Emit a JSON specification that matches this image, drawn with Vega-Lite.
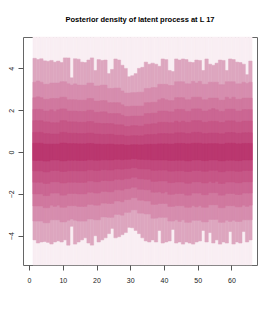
{
"$schema":"https://vega.github.io/schema/vega-lite/v6.json",
"width":234,"height":228,"autosize":"none",
"padding":{"left":23,"top":37,"right":18,"bottom":49},
"background":"white",
"title":{"text":"Posterior density of latent process at L 17","font":"Liberation Sans","fontSize":7.5,"fontWeight":"bold","color":"#000","anchor":"middle","offset":13},
"config":{"view":{"stroke":"#666","strokeWidth":1},
"axis":{"domain":false,"grid":false,"tickSize":5,"tickColor":"#555","labelFont":"Liberation Sans","labelFontSize":7,"labelColor":"#222","title":null}},
"data":{"values":[
{"x":1,"u1":4.48,"u2":3.34,"u3":2.6,"u4":2.04,"u5":1.5,"u6":0.94,"u7":0.42,"l1":-4.2,"l2":-3.3,"l3":-2.58,"l4":-2.0,"l5":-1.44,"l6":-0.9,"l7":-0.4},
{"x":2,"u1":4.42,"u2":3.4,"u3":2.64,"u4":2.04,"u5":1.5,"u6":0.94,"u7":0.42,"l1":-4.35,"l2":-3.3,"l3":-2.58,"l4":-2.0,"l5":-1.44,"l6":-0.9,"l7":-0.4},
{"x":3,"u1":4.46,"u2":3.34,"u3":2.6,"u4":2.04,"u5":1.5,"u6":0.94,"u7":0.42,"l1":-4.3,"l2":-3.3,"l3":-2.58,"l4":-2.0,"l5":-1.44,"l6":-0.9,"l7":-0.4},
{"x":4,"u1":4.36,"u2":3.24,"u3":2.52,"u4":1.96,"u5":1.44,"u6":0.88,"u7":0.38,"l1":-4.28,"l2":-3.38,"l3":-2.66,"l4":-2.08,"l5":-1.5,"l6":-0.95,"l7":-0.43},
{"x":5,"u1":4.34,"u2":3.24,"u3":2.52,"u4":1.96,"u5":1.44,"u6":0.88,"u7":0.38,"l1":-4.32,"l2":-3.38,"l3":-2.66,"l4":-2.08,"l5":-1.5,"l6":-0.95,"l7":-0.43},
{"x":6,"u1":4.38,"u2":3.3,"u3":2.56,"u4":2.02,"u5":1.4,"u6":0.86,"u7":0.38,"l1":-4.4,"l2":-3.24,"l3":-2.54,"l4":-1.96,"l5":-1.42,"l6":-0.88,"l7":-0.38},
{"x":7,"u1":4.3,"u2":3.3,"u3":2.56,"u4":1.94,"u5":1.4,"u6":0.86,"u7":0.38,"l1":-4.3,"l2":-3.24,"l3":-2.6,"l4":-1.96,"l5":-1.42,"l6":-0.88,"l7":-0.38},
{"x":8,"u1":4.35,"u2":3.3,"u3":2.56,"u4":2.02,"u5":1.4,"u6":0.86,"u7":0.38,"l1":-4.25,"l2":-3.24,"l3":-2.54,"l4":-1.96,"l5":-1.42,"l6":-0.88,"l7":-0.38},
{"x":9,"u1":4.28,"u2":3.36,"u3":2.62,"u4":2.06,"u5":1.5,"u6":0.94,"u7":0.43,"l1":-4.3,"l2":-3.34,"l3":-2.64,"l4":-2.06,"l5":-1.48,"l6":-0.93,"l7":-0.42},
{"x":10,"u1":4.5,"u2":3.36,"u3":2.62,"u4":2.06,"u5":1.5,"u6":0.94,"u7":0.43,"l1":-4.2,"l2":-3.34,"l3":-2.64,"l4":-2.06,"l5":-1.48,"l6":-0.93,"l7":-0.42},
{"x":11,"u1":4.5,"u2":3.26,"u3":2.5,"u4":1.96,"u5":1.44,"u6":0.9,"u7":0.4,"l1":-4.45,"l2":-3.26,"l3":-2.56,"l4":-1.98,"l5":-1.44,"l6":-0.89,"l7":-0.39},
{"x":12,"u1":3.55,"u2":3.2,"u3":2.5,"u4":1.96,"u5":1.44,"u6":0.9,"u7":0.4,"l1":-3.55,"l2":-3.2,"l3":-2.56,"l4":-1.98,"l5":-1.44,"l6":-0.89,"l7":-0.39},
{"x":13,"u1":4.46,"u2":3.26,"u3":2.5,"u4":1.96,"u5":1.44,"u6":0.9,"u7":0.4,"l1":-4.4,"l2":-3.26,"l3":-2.56,"l4":-1.98,"l5":-1.44,"l6":-0.89,"l7":-0.39},
{"x":14,"u1":4.44,"u2":3.2,"u3":2.48,"u4":1.94,"u5":1.42,"u6":0.88,"u7":0.39,"l1":-4.3,"l2":-3.3,"l3":-2.6,"l4":-2.0,"l5":-1.45,"l6":-0.9,"l7":-0.4},
{"x":15,"u1":4.3,"u2":3.2,"u3":2.48,"u4":1.94,"u5":1.42,"u6":0.88,"u7":0.39,"l1":-4.2,"l2":-3.3,"l3":-2.6,"l4":-2.0,"l5":-1.45,"l6":-0.9,"l7":-0.4},
{"x":16,"u1":4.28,"u2":3.2,"u3":2.48,"u4":1.94,"u5":1.42,"u6":0.88,"u7":0.39,"l1":-4.1,"l2":-3.3,"l3":-2.6,"l4":-2.0,"l5":-1.45,"l6":-0.9,"l7":-0.4},
{"x":17,"u1":4.4,"u2":3.3,"u3":2.56,"u4":2.0,"u5":1.46,"u6":0.91,"u7":0.41,"l1":-4.35,"l2":-3.2,"l3":-2.5,"l4":-1.92,"l5":-1.38,"l6":-0.85,"l7":-0.37},
{"x":18,"u1":4.5,"u2":3.3,"u3":2.56,"u4":2.0,"u5":1.46,"u6":0.91,"u7":0.41,"l1":-4.45,"l2":-3.2,"l3":-2.5,"l4":-1.92,"l5":-1.38,"l6":-0.85,"l7":-0.37},
{"x":19,"u1":3.9,"u2":3.16,"u3":2.44,"u4":1.9,"u5":1.38,"u6":0.86,"u7":0.38,"l1":-4.0,"l2":-3.24,"l3":-2.54,"l4":-1.96,"l5":-1.42,"l6":-0.88,"l7":-0.39},
{"x":20,"u1":4.42,"u2":3.16,"u3":2.44,"u4":1.9,"u5":1.38,"u6":0.86,"u7":0.38,"l1":-4.3,"l2":-3.24,"l3":-2.54,"l4":-1.96,"l5":-1.42,"l6":-0.88,"l7":-0.39},
{"x":21,"u1":4.38,"u2":3.2,"u3":2.46,"u4":1.92,"u5":1.36,"u6":0.84,"u7":0.37,"l1":-4.2,"l2":-3.1,"l3":-2.44,"l4":-1.88,"l5":-1.36,"l6":-0.84,"l7":-0.37},
{"x":22,"u1":4.4,"u2":3.2,"u3":2.46,"u4":1.92,"u5":1.36,"u6":0.84,"u7":0.37,"l1":-4.1,"l2":-3.1,"l3":-2.44,"l4":-1.88,"l5":-1.36,"l6":-0.84,"l7":-0.37},
{"x":23,"u1":3.75,"u2":3.04,"u3":2.36,"u4":1.84,"u5":1.36,"u6":0.85,"u7":0.38,"l1":-3.9,"l2":-3.12,"l3":-2.46,"l4":-1.9,"l5":-1.37,"l6":-0.86,"l7":-0.38},
{"x":24,"u1":3.95,"u2":3.04,"u3":2.36,"u4":1.84,"u5":1.36,"u6":0.85,"u7":0.38,"l1":-3.65,"l2":-3.12,"l3":-2.46,"l4":-1.9,"l5":-1.37,"l6":-0.86,"l7":-0.38},
{"x":25,"u1":4.45,"u2":3.06,"u3":2.36,"u4":1.84,"u5":1.3,"u6":0.8,"u7":0.35,"l1":-4.1,"l2":-2.98,"l3":-2.34,"l4":-1.8,"l5":-1.3,"l6":-0.81,"l7":-0.35},
{"x":26,"u1":4.4,"u2":3.06,"u3":2.36,"u4":1.84,"u5":1.3,"u6":0.8,"u7":0.35,"l1":-4.05,"l2":-2.98,"l3":-2.34,"l4":-1.8,"l5":-1.3,"l6":-0.81,"l7":-0.35},
{"x":27,"u1":4.15,"u2":2.92,"u3":2.26,"u4":1.76,"u5":1.3,"u6":0.81,"u7":0.36,"l1":-3.95,"l2":-3.02,"l3":-2.38,"l4":-1.82,"l5":-1.32,"l6":-0.82,"l7":-0.37},
{"x":28,"u1":4.0,"u2":2.82,"u3":2.18,"u4":1.7,"u5":1.22,"u6":0.76,"u7":0.33,"l1":-3.85,"l2":-2.88,"l3":-2.27,"l4":-1.75,"l5":-1.27,"l6":-0.79,"l7":-0.35},
{"x":29,"u1":3.6,"u2":2.82,"u3":2.18,"u4":1.7,"u5":1.22,"u6":0.76,"u7":0.33,"l1":-3.6,"l2":-2.88,"l3":-2.27,"l4":-1.75,"l5":-1.27,"l6":-0.79,"l7":-0.35},
{"x":30,"u1":3.65,"u2":2.84,"u3":2.2,"u4":1.72,"u5":1.26,"u6":0.78,"u7":0.35,"l1":-3.62,"l2":-2.76,"l3":-2.18,"l4":-1.68,"l5":-1.2,"l6":-0.74,"l7":-0.32},
{"x":31,"u1":3.75,"u2":2.84,"u3":2.2,"u4":1.72,"u5":1.26,"u6":0.78,"u7":0.35,"l1":-3.75,"l2":-2.76,"l3":-2.18,"l4":-1.68,"l5":-1.2,"l6":-0.74,"l7":-0.32},
{"x":32,"u1":4.0,"u2":2.86,"u3":2.2,"u4":1.72,"u5":1.24,"u6":0.77,"u7":0.34,"l1":-3.9,"l2":-2.92,"l3":-2.3,"l4":-1.78,"l5":-1.28,"l6":-0.8,"l7":-0.35},
{"x":33,"u1":4.05,"u2":2.86,"u3":2.2,"u4":1.72,"u5":1.24,"u6":0.77,"u7":0.34,"l1":-4.1,"l2":-2.92,"l3":-2.3,"l4":-1.78,"l5":-1.28,"l6":-0.8,"l7":-0.35},
{"x":34,"u1":4.3,"u2":3.04,"u3":2.36,"u4":1.84,"u5":1.33,"u6":0.83,"u7":0.37,"l1":-4.25,"l2":-2.96,"l3":-2.34,"l4":-1.8,"l5":-1.3,"l6":-0.81,"l7":-0.36},
{"x":35,"u1":4.2,"u2":3.04,"u3":2.36,"u4":1.84,"u5":1.33,"u6":0.83,"u7":0.37,"l1":-4.3,"l2":-2.96,"l3":-2.34,"l4":-1.8,"l5":-1.3,"l6":-0.81,"l7":-0.36},
{"x":36,"u1":4.25,"u2":3.08,"u3":2.38,"u4":1.86,"u5":1.35,"u6":0.84,"u7":0.37,"l1":-4.2,"l2":-3.16,"l3":-2.5,"l4":-1.92,"l5":-1.4,"l6":-0.87,"l7":-0.38},
{"x":37,"u1":4.2,"u2":3.08,"u3":2.38,"u4":1.86,"u5":1.35,"u6":0.84,"u7":0.37,"l1":-4.3,"l2":-3.16,"l3":-2.5,"l4":-1.92,"l5":-1.4,"l6":-0.87,"l7":-0.38},
{"x":38,"u1":4.1,"u2":3.24,"u3":2.5,"u4":1.96,"u5":1.42,"u6":0.88,"u7":0.39,"l1":-3.75,"l2":-3.12,"l3":-2.46,"l4":-1.9,"l5":-1.38,"l6":-0.86,"l7":-0.38},
{"x":39,"u1":4.45,"u2":3.24,"u3":2.56,"u4":1.96,"u5":1.42,"u6":0.88,"u7":0.39,"l1":-4.35,"l2":-3.12,"l3":-2.46,"l4":-1.96,"l5":-1.38,"l6":-0.86,"l7":-0.38},
{"x":40,"u1":4.42,"u2":3.24,"u3":2.5,"u4":1.96,"u5":1.42,"u6":0.88,"u7":0.39,"l1":-4.3,"l2":-3.12,"l3":-2.46,"l4":-1.9,"l5":-1.38,"l6":-0.86,"l7":-0.38},
{"x":41,"u1":3.9,"u2":3.18,"u3":2.46,"u4":1.92,"u5":1.4,"u6":0.87,"u7":0.38,"l1":-4.25,"l2":-3.3,"l3":-2.6,"l4":-2.02,"l5":-1.46,"l6":-0.91,"l7":-0.4},
{"x":42,"u1":3.85,"u2":3.18,"u3":2.46,"u4":1.92,"u5":1.4,"u6":0.87,"u7":0.38,"l1":-3.7,"l2":-3.3,"l3":-2.6,"l4":-2.02,"l5":-1.46,"l6":-0.91,"l7":-0.4},
{"x":43,"u1":4.45,"u2":3.36,"u3":2.6,"u4":2.04,"u5":1.48,"u6":0.92,"u7":0.41,"l1":-4.35,"l2":-3.24,"l3":-2.56,"l4":-1.98,"l5":-1.43,"l6":-0.89,"l7":-0.39},
{"x":44,"u1":4.4,"u2":3.36,"u3":2.6,"u4":2.04,"u5":1.42,"u6":0.92,"u7":0.41,"l1":-4.3,"l2":-3.32,"l3":-2.56,"l4":-1.98,"l5":-1.43,"l6":-0.89,"l7":-0.39},
{"x":45,"u1":4.45,"u2":3.36,"u3":2.6,"u4":2.04,"u5":1.48,"u6":0.92,"u7":0.41,"l1":-4.4,"l2":-3.24,"l3":-2.56,"l4":-1.98,"l5":-1.43,"l6":-0.89,"l7":-0.39},
{"x":46,"u1":4.42,"u2":3.26,"u3":2.5,"u4":1.94,"u5":1.42,"u6":0.88,"u7":0.39,"l1":-4.3,"l2":-3.36,"l3":-2.64,"l4":-2.06,"l5":-1.49,"l6":-0.93,"l7":-0.42},
{"x":47,"u1":4.3,"u2":3.26,"u3":2.5,"u4":1.94,"u5":1.42,"u6":0.88,"u7":0.39,"l1":-4.35,"l2":-3.36,"l3":-2.64,"l4":-2.06,"l5":-1.49,"l6":-0.93,"l7":-0.42},
{"x":48,"u1":4.28,"u2":3.38,"u3":2.62,"u4":2.06,"u5":1.5,"u6":0.94,"u7":0.42,"l1":-4.4,"l2":-3.26,"l3":-2.56,"l4":-1.96,"l5":-1.42,"l6":-0.88,"l7":-0.38},
{"x":49,"u1":4.4,"u2":3.3,"u3":2.62,"u4":2.06,"u5":1.5,"u6":0.94,"u7":0.42,"l1":-4.3,"l2":-3.26,"l3":-2.62,"l4":-1.96,"l5":-1.42,"l6":-0.88,"l7":-0.38},
{"x":50,"u1":4.38,"u2":3.38,"u3":2.62,"u4":2.06,"u5":1.5,"u6":0.94,"u7":0.42,"l1":-4.25,"l2":-3.26,"l3":-2.56,"l4":-1.96,"l5":-1.42,"l6":-0.88,"l7":-0.38},
{"x":51,"u1":3.9,"u2":3.24,"u3":2.5,"u4":1.96,"u5":1.42,"u6":0.88,"u7":0.39,"l1":-3.75,"l2":-3.34,"l3":-2.64,"l4":-2.04,"l5":-1.48,"l6":-0.92,"l7":-0.41},
{"x":52,"u1":4.45,"u2":3.24,"u3":2.5,"u4":1.96,"u5":1.42,"u6":0.88,"u7":0.39,"l1":-4.3,"l2":-3.34,"l3":-2.64,"l4":-2.04,"l5":-1.48,"l6":-0.92,"l7":-0.41},
{"x":53,"u1":4.2,"u2":3.34,"u3":2.58,"u4":2.02,"u5":1.47,"u6":0.91,"u7":0.4,"l1":-3.85,"l2":-3.22,"l3":-2.52,"l4":-1.94,"l5":-1.4,"l6":-0.87,"l7":-0.38},
{"x":54,"u1":4.15,"u2":3.34,"u3":2.58,"u4":2.08,"u5":1.47,"u6":0.91,"u7":0.4,"l1":-4.35,"l2":-3.22,"l3":-2.52,"l4":-1.94,"l5":-1.46,"l6":-0.87,"l7":-0.38},
{"x":55,"u1":4.25,"u2":3.34,"u3":2.58,"u4":2.02,"u5":1.47,"u6":0.91,"u7":0.4,"l1":-4.2,"l2":-3.22,"l3":-2.52,"l4":-1.94,"l5":-1.4,"l6":-0.87,"l7":-0.38},
{"x":56,"u1":4.4,"u2":3.22,"u3":2.48,"u4":1.94,"u5":1.41,"u6":0.87,"u7":0.38,"l1":-4.4,"l2":-3.36,"l3":-2.66,"l4":-2.06,"l5":-1.5,"l6":-0.94,"l7":-0.42},
{"x":57,"u1":4.38,"u2":3.22,"u3":2.48,"u4":1.94,"u5":1.41,"u6":0.87,"u7":0.38,"l1":-4.3,"l2":-3.36,"l3":-2.66,"l4":-2.06,"l5":-1.5,"l6":-0.94,"l7":-0.42},
{"x":58,"u1":3.9,"u2":3.36,"u3":2.62,"u4":2.05,"u5":1.49,"u6":0.93,"u7":0.42,"l1":-4.35,"l2":-3.26,"l3":-2.56,"l4":-1.98,"l5":-1.43,"l6":-0.89,"l7":-0.39},
{"x":59,"u1":4.45,"u2":3.36,"u3":2.54,"u4":2.05,"u5":1.49,"u6":0.93,"u7":0.42,"l1":-3.8,"l2":-3.32,"l3":-2.56,"l4":-1.98,"l5":-1.43,"l6":-0.89,"l7":-0.39},
{"x":60,"u1":4.42,"u2":3.36,"u3":2.62,"u4":2.05,"u5":1.49,"u6":0.93,"u7":0.42,"l1":-4.4,"l2":-3.26,"l3":-2.56,"l4":-1.98,"l5":-1.43,"l6":-0.89,"l7":-0.39},
{"x":61,"u1":4.3,"u2":3.26,"u3":2.52,"u4":1.96,"u5":1.43,"u6":0.89,"u7":0.39,"l1":-4.3,"l2":-3.32,"l3":-2.62,"l4":-2.03,"l5":-1.47,"l6":-0.92,"l7":-0.41},
{"x":62,"u1":4.28,"u2":3.26,"u3":2.52,"u4":1.96,"u5":1.43,"u6":0.89,"u7":0.39,"l1":-4.35,"l2":-3.32,"l3":-2.62,"l4":-2.03,"l5":-1.47,"l6":-0.92,"l7":-0.41},
{"x":63,"u1":4.2,"u2":3.34,"u3":2.58,"u4":2.03,"u5":1.48,"u6":0.92,"u7":0.41,"l1":-3.8,"l2":-3.24,"l3":-2.54,"l4":-1.96,"l5":-1.42,"l6":-0.88,"l7":-0.38},
{"x":64,"u1":3.7,"u2":3.28,"u3":2.58,"u4":2.03,"u5":1.48,"u6":0.92,"u7":0.41,"l1":-4.3,"l2":-3.24,"l3":-2.6,"l4":-1.96,"l5":-1.42,"l6":-0.88,"l7":-0.38},
{"x":65,"u1":4.35,"u2":3.34,"u3":2.58,"u4":2.03,"u5":1.48,"u6":0.92,"u7":0.41,"l1":-4.2,"l2":-3.24,"l3":-2.54,"l4":-1.96,"l5":-1.42,"l6":-0.88,"l7":-0.38}
]},
"encoding":{
"x":{"field":"x","type":"quantitative","bin":{"binned":true,"step":1},"scale":{"domain":[-1.8,67.6],"nice":false,"zero":false},"axis":{"values":[0,10,20,30,40,50,60],"labelAngle":0,"labelPadding":6,"format":"d"}}
},
"layer":[
{"mark":{"type":"rect","binSpacing":0,"color":"#F9EEF3","stroke":"#F9EEF3","strokeWidth":0.5},"encoding":{"y":{"datum":5.5,"type":"quantitative","scale":{"domain":[-5.4,5.5],"nice":false,"zero":false},"axis":{"values":[-4,-2,0,2,4],"labelAngle":270,"labelPadding":4}},"y2":{"datum":-5.4}}},
{"mark":{"type":"rect","binSpacing":0,"color":"#DDA6BF","stroke":"#DDA6BF","strokeWidth":0.5},"encoding":{"y":{"field":"u1","type":"quantitative"},"y2":{"field":"l1"}}},
{"mark":{"type":"rect","binSpacing":0,"color":"#D68DAE","stroke":"#D68DAE","strokeWidth":0.5},"encoding":{"y":{"field":"u2","type":"quantitative"},"y2":{"field":"l2"}}},
{"mark":{"type":"rect","binSpacing":0,"color":"#D0789F","stroke":"#D0789F","strokeWidth":0.5},"encoding":{"y":{"field":"u3","type":"quantitative"},"y2":{"field":"l3"}}},
{"mark":{"type":"rect","binSpacing":0,"color":"#CB6693","stroke":"#CB6693","strokeWidth":0.5},"encoding":{"y":{"field":"u4","type":"quantitative"},"y2":{"field":"l4"}}},
{"mark":{"type":"rect","binSpacing":0,"color":"#C65787","stroke":"#C65787","strokeWidth":0.5},"encoding":{"y":{"field":"u5","type":"quantitative"},"y2":{"field":"l5"}}},
{"mark":{"type":"rect","binSpacing":0,"color":"#C1497D","stroke":"#C1497D","strokeWidth":0.5},"encoding":{"y":{"field":"u6","type":"quantitative"},"y2":{"field":"l6"}}},
{"mark":{"type":"rect","binSpacing":0,"color":"#BA376F","stroke":"#BA376F","strokeWidth":0.5},"encoding":{"y":{"field":"u7","type":"quantitative"},"y2":{"field":"l7"}}}
]
}
